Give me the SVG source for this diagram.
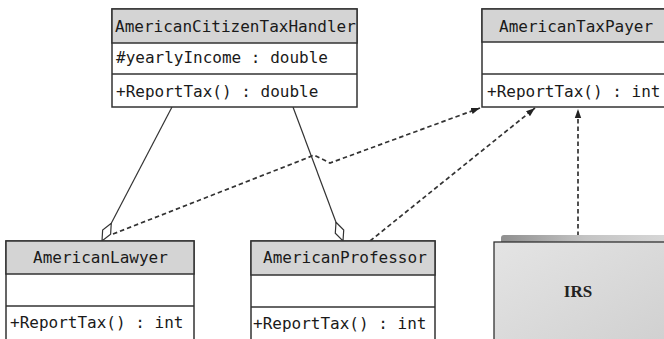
<svg xmlns="http://www.w3.org/2000/svg" width="664" height="339" viewBox="0 0 664 339">
<style>
.box{fill:#fff;stroke:#333;stroke-width:1.5}
.hdr{fill:#d4d4d4;stroke:#333;stroke-width:1.5}
.div{stroke:#333;stroke-width:1.5}
.t{font-family:"DejaVu Sans Mono","Liberation Mono",monospace;font-size:16px;fill:#1a1a1a}
.solid{fill:none;stroke:#333;stroke-width:1.2}
.dash{fill:none;stroke:#333;stroke-width:1.7;stroke-dasharray:4.5,3}
</style>
<defs>
<marker id="dia" markerUnits="userSpaceOnUse" markerWidth="22" markerHeight="12" viewBox="0 -6 22 12" refX="20" refY="0" orient="auto">
<path d="M0,0 L10,-4.5 L20,0 L10,4.5 Z" fill="#fff" stroke="#333" stroke-width="1.2"/>
</marker>
<marker id="arr" markerUnits="userSpaceOnUse" markerWidth="10" markerHeight="8" viewBox="0 -4 10 8" refX="9" refY="0" orient="auto">
<path d="M0,-3.2 L9,0 L0,3.2 Z" fill="#222"/>
</marker>
<linearGradient id="irsg" x1="0" y1="0" x2="1" y2="1">
<stop offset="0" stop-color="#e4e4e4"/>
<stop offset="1" stop-color="#cfcfcf"/>
</linearGradient>
<linearGradient id="tabg" x1="0" y1="0" x2="1" y2="0">
<stop offset="0" stop-color="#8f8f8f"/>
<stop offset="0.5" stop-color="#c4c4c4"/>
<stop offset="1" stop-color="#d8d8d8"/>
</linearGradient>
</defs>

<g id="connectors">
<path class="solid" d="M172,107 L102,241" marker-end="url(#dia)"/>
<path class="solid" d="M293,107 L343,241" marker-end="url(#dia)"/>
<path class="dash" d="M113,234 L307,158 L314,155 L330,163 L480,108" marker-end="url(#arr)"/>
<path class="dash" d="M370,241 L535,108" marker-end="url(#arr)"/>
<path class="dash" d="M578,236 L578,109" marker-end="url(#arr)"/>
</g>

<g id="AmericanCitizenTaxHandler">
<rect class="box" x="112" y="9" width="245" height="98"/>
<rect class="hdr" x="112" y="9" width="245" height="34"/>
<line class="div" x1="112" y1="74" x2="357" y2="74"/>
<text class="t" x="115" y="32">AmericanCitizenTaxHandler</text>
<text class="t" x="116" y="63">#yearlyIncome : double</text>
<text class="t" x="116" y="97">+ReportTax() : double</text>
</g>

<g id="AmericanTaxPayer">
<rect class="box" x="482" y="9" width="200" height="98"/>
<rect class="hdr" x="482" y="9" width="200" height="33"/>
<line class="div" x1="482" y1="74" x2="682" y2="74"/>
<text class="t" x="499" y="32">AmericanTaxPayer</text>
<text class="t" x="487" y="97">+ReportTax() : int</text>
</g>

<g id="AmericanLawyer">
<rect class="box" x="6" y="241" width="188" height="120"/>
<rect class="hdr" x="6" y="241" width="188" height="33"/>
<line class="div" x1="6" y1="306" x2="194" y2="306"/>
<text class="t" x="33" y="263">AmericanLawyer</text>
<text class="t" x="10" y="328">+ReportTax() : int</text>
</g>

<g id="AmericanProfessor">
<rect class="box" x="251" y="241" width="184" height="120"/>
<rect class="hdr" x="251" y="241" width="184" height="34"/>
<line class="div" x1="251" y1="307" x2="435" y2="307"/>
<text class="t" x="263" y="263">AmericanProfessor</text>
<text class="t" x="253" y="329">+ReportTax() : int</text>
</g>

<g id="IRS">
<path d="M501,242 L501,238 Q501,235 504,235 L670,235 L670,242 Z" fill="url(#tabg)"/>
<rect x="494" y="242" width="180" height="110" fill="url(#irsg)" stroke="#333" stroke-width="1.3"/>
<text x="578" y="297" text-anchor="middle" font-family="Liberation Serif,serif" font-weight="bold" font-size="17" fill="#222">IRS</text>
</g>
</svg>
